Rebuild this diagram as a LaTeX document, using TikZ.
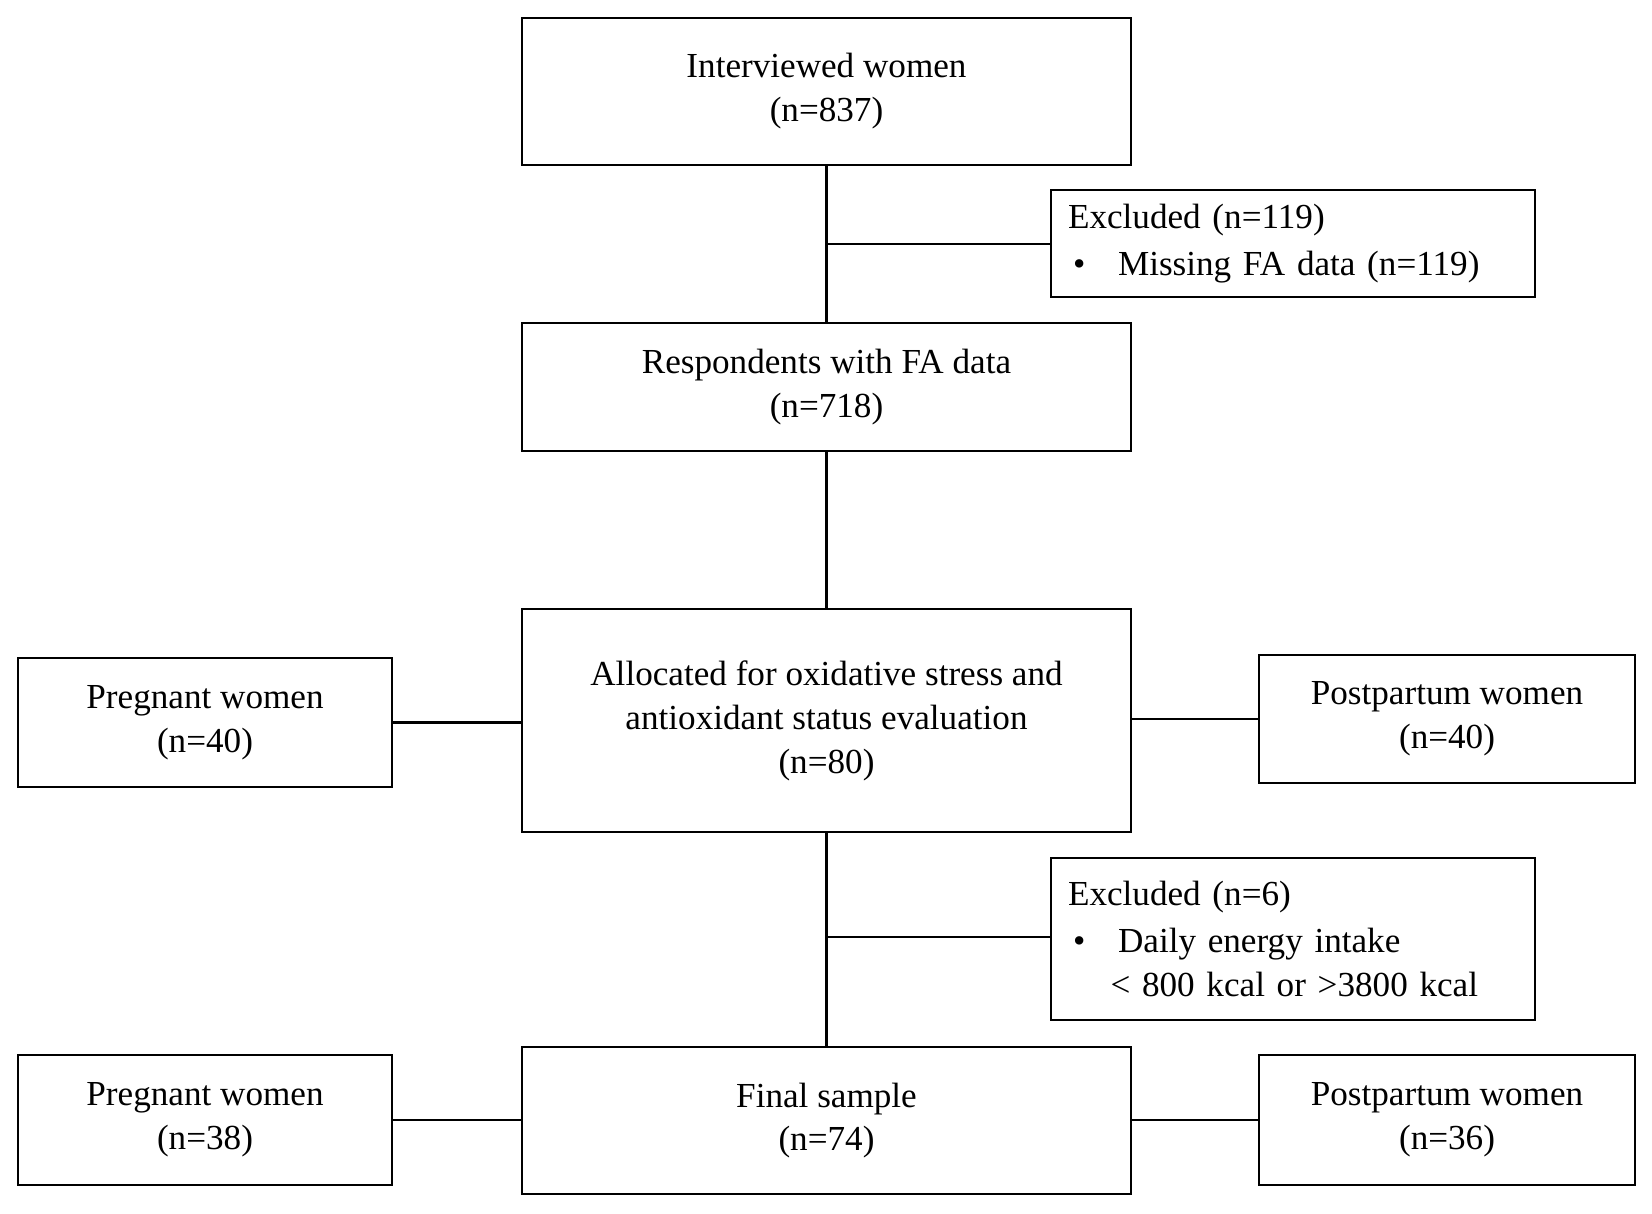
\documentclass[tikz,border=0pt]{standalone}
\usepackage{fontspec}
\setmainfont{Liberation Serif}
\usetikzlibrary{positioning}
\tikzset{
  box/.style={draw,line width=1.6pt,align=center,font=\fontsize{20}{25}\selectfont,inner sep=0pt},
  exbox/.style={draw,line width=1.6pt,align=left,font=\fontsize{20}{25}\selectfont,inner ysep=0pt,inner xsep=0.3cm,text width=9.0cm},
  link/.style={line width=1.6pt}
}
\newcommand{\placebox}[6]{% name, x1, y1, x2, y2, style
  \node[#6,minimum width={(#4-#2)*0.02cm},minimum height={(#5-#3)*0.02cm}] (#1) at ({(#2+#4)/2},{(#3+#5)/2})}
\begin{document}
\begin{tikzpicture}[x=0.02cm,y=-0.02cm]
  \useasboundingbox (0,0) rectangle (1652,1213);

  % ---- Main column --------------------------------
  \placebox{intv}{522}{18}{1131}{165}{box} {Interviewed women\\(n=837)};
  \placebox{resp}{522}{323}{1131}{451}{box} {Respondents with FA data\\(n=718)};
  \placebox{alloc}{522}{609}{1131}{832}{box} {Allocated for oxidative stress and\\antioxidant status evaluation\\(n=80)};
  \placebox{final}{522}{1047}{1131}{1194}{box} {Final sample\\(n=74)};

  % ---- Exclusions --------------------------------
  \placebox{exA}{1051}{190}{1535}{297}{exbox}
    {Excluded (n=119)\\[2pt]\makebox[1.0cm][l]{\hspace{0.1cm}•}Missing FA data (n=119)};
  \placebox{exB}{1051}{858}{1535}{1020}{exbox}
    {Excluded (n=6)\\[2pt]\makebox[1.0cm][l]{\hspace{0.1cm}•}Daily energy intake\\\hspace{0.85cm}\textless{} 800 kcal or \textgreater3800 kcal};

  % ---- Side groups --------------------------------
  \placebox{pregA}{18}{658}{392}{787}{box} {Pregnant women\\(n=40)};
  \placebox{postA}{1259}{655}{1635}{783}{box} {Postpartum women\\(n=40)};
  \placebox{pregB}{18}{1055}{392}{1185}{box} {Pregnant women\\(n=38)};
  \placebox{postB}{1259}{1055}{1635}{1185}{box} {Postpartum women\\(n=36)};

  % ---- Connectors --------------------------------
  \draw[link] (intv) -- (resp);
  \draw[link] (resp) -- (alloc);
  \draw[link] (alloc) -- (final);
  \coordinate (jA) at (826,244);
  \coordinate (jB) at (826,937);
  \draw[link] (jA) -- (jA -| exA.west);
  \draw[link] (jB) -- (jB -| exB.west);
  \draw[link] (pregA) -- (pregA -| alloc.west);
  \draw[link] (postA.west) -- (postA.west -| alloc.east);
  \draw[link] (pregB) -- (pregB -| final.west);
  \draw[link] (postB) -- (postB -| final.east);
\end{tikzpicture}
\end{document}
